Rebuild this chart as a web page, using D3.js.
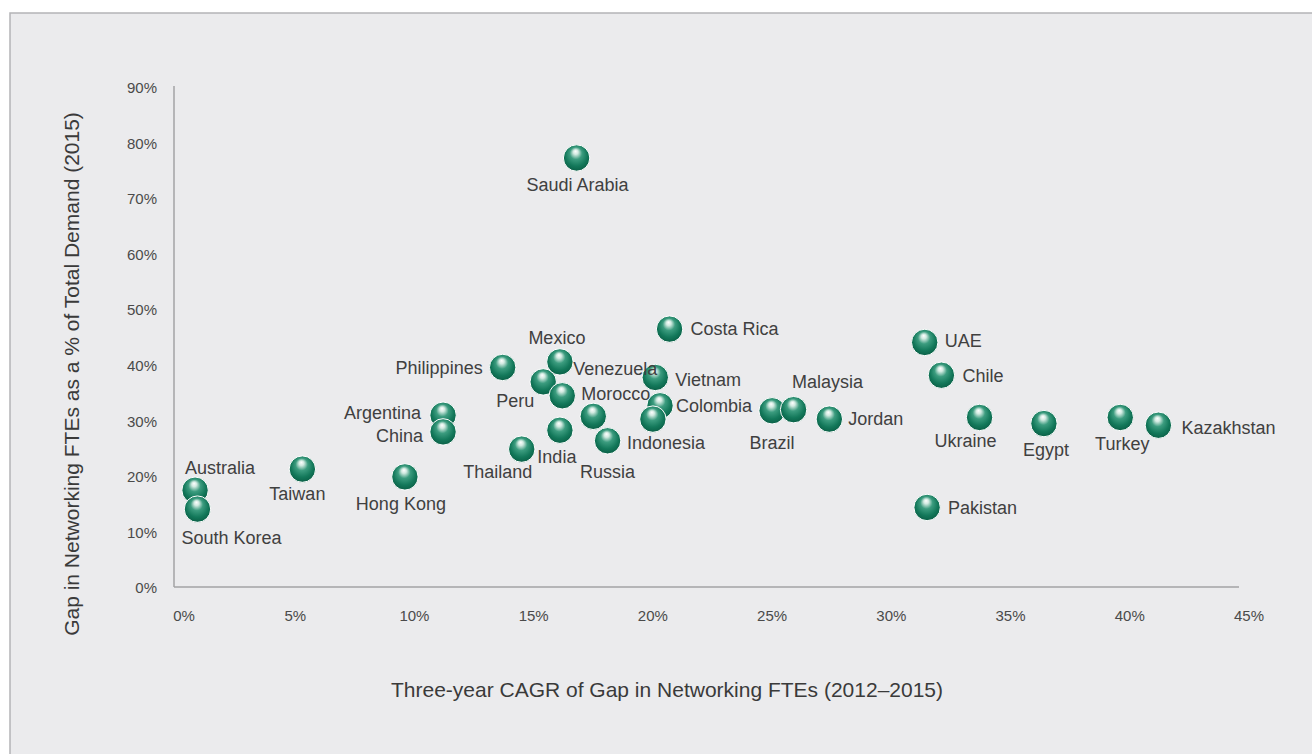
<!DOCTYPE html>
<html>
<head>
<meta charset="utf-8">
<script src="https://cdn.jsdelivr.net/npm/d3@7"></script>
<style>
body { margin: 0; background: #ffffff; }
text { font-family: "Liberation Sans", Arial, sans-serif; }
</style>
</head>
<body>
<script>
// Networking gap scatter

var countries = ["Australia","South Korea","Taiwan","Hong Kong","Argentina","China","Philippines",
    "Thailand","Peru","Mexico","Morocco","Venezuela","India","Russia","Saudi Arabia",
    "Vietnam","Colombia","Indonesia","Costa Rica","Brazil","Malaysia","Jordan",
    "UAE","Chile","Ukraine","Pakistan","Egypt","Turkey","Kazakhstan"];
// three-year CAGR of gap (%)
var cagr = [0.8,0.9,5.3,9.6,11.2,11.2,13.7,
    14.5,15.4,16.1,16.2,17.5,16.1,18.1,16.8,
    20.1,20.3,20.0,20.7,25.0,25.9,27.4,
    31.4,32.1,33.7,31.5,36.4,39.6,41.2];
// gap as % of total demand (2015)
var gap = [17.6,14.2,21.4,20.0,31.1,28.1,39.7,
    25.0,37.1,40.7,34.6,30.9,28.4,26.5,77.4,
    37.9,32.8,30.4,46.6,31.9,32.1,30.4,
    44.2,38.3,30.7,14.5,29.6,30.7,29.3];

var xTicks = [0,5,10,15,20,25,30,35,40,45];
var yTicks = [0,10,20,30,40,50,60,70,80,90];

// label placement next to each ball: dx, dy, anchor
var labelPos = [[25,-23,"middle"],[34,29,"middle"],[-5,25,"middle"],[-4,27,"middle"],
    [-22,-3,"end"],[-20,4,"end"],[-20,0,"end"],
    [-24,23,"middle"],[-28,19,"middle"],[-3,-24,"middle"],[19,-2,"start"],[-20,-48,"start"],
    [-3,26,"middle"],[0,31,"middle"],[1,27,"middle"],
    [20,2,"start"],[16,0,"start"],[-26,24,"start"],[21,0,"start"],
    [0,32,"middle"],[34,-28,"middle"],[19,0,"start"],
    [20,-2,"start"],[21,0,"start"],[-14,23,"middle"],[21,0,"start"],
    [2,26,"middle"],[2,26,"middle"],[23,2,"start"]];

var width = 1312;
var height = 754;

var body = d3.select("body");
var graphics = body.append("svg")
    .attr("width",width)
    .attr("height",height);

// panel
graphics.append("rect")
    .attr("x",10)
    .attr("y",13)
    .attr("width",width)
    .attr("height",height)
    .attr("fill","#ebebed")
    .attr("stroke","#b4b4b6")
    .attr("stroke-width",1.5);

var x = d3.scaleLinear().domain([0,45]).range([176,1249]);
var y = d3.scaleLinear().domain([0,90]).range([588,88]);

// axis lines
graphics.append("line")
    .attr("x1",174).attr("y1",86)
    .attr("x2",174).attr("y2",587)
    .attr("stroke","#a3a3a5")
    .attr("stroke-width",1.5);
graphics.append("line")
    .attr("x1",174).attr("y1",587)
    .attr("x2",1239).attr("y2",587)
    .attr("stroke","#a3a3a5")
    .attr("stroke-width",1.5);

// tick labels
graphics.selectAll(".ytick")
    .data(yTicks)
    .enter().append("text")
    .attr("class","ytick")
    .attr("x",157)
    .attr("y",function(d){ return y(d); })
    .attr("dy","0.35em")
    .attr("text-anchor","end")
    .attr("font-size",15)
    .attr("fill","#4a4a4a")
    .text(function(d){ return d + "%"; });

graphics.selectAll(".xtick")
    .data(xTicks)
    .enter().append("text")
    .attr("class","xtick")
    .attr("x",function(d){ return d == 0 ? x(d) + 8 : x(d); })
    .attr("y",616)
    .attr("dy","0.35em")
    .attr("text-anchor","middle")
    .attr("font-size",15)
    .attr("fill","#4a4a4a")
    .text(function(d){ return d + "%"; });

// axis titles
graphics.append("text")
    .attr("x",667)
    .attr("y",690)
    .attr("dy","0.35em")
    .attr("text-anchor","middle")
    .attr("font-size",21)
    .attr("fill","#3a3a3a")
    .text("Three-year CAGR of Gap in Networking FTEs (2012\u20132015)");

graphics.append("text")
    .attr("transform","translate(72,374) rotate(-90)")
    .attr("dy","0.35em")
    .attr("text-anchor","middle")
    .attr("font-size",21)
    .attr("fill","#3a3a3a")
    .text("Gap in Networking FTEs as a % of Total Demand (2015)");

// glossy ball gradient
var grad = graphics.append("defs").append("radialGradient")
    .attr("id","ball")
    .attr("cx","50%").attr("cy","45%").attr("r","58%")
    .attr("fx","46%").attr("fy","24%");
grad.append("stop").attr("offset","0%").attr("stop-color","#ffffff");
grad.append("stop").attr("offset","16%").attr("stop-color","#d2eae1");
grad.append("stop").attr("offset","40%").attr("stop-color","#3c9c7f");
grad.append("stop").attr("offset","72%").attr("stop-color","#13785a");
grad.append("stop").attr("offset","100%").attr("stop-color","#0a5c44");

var idx = d3.range(countries.length);

graphics.selectAll(".ball")
    .data(idx)
    .enter().append("circle")
    .attr("class","ball")
    .attr("cx",function(i){ return x(cagr[i]); })
    .attr("cy",function(i){ return y(gap[i]); })
    .attr("r",13.2)
    .attr("fill","url(#ball)")
    .attr("stroke","#ffffff")
    .attr("stroke-width",1);

graphics.selectAll(".lbl")
    .data(idx)
    .enter().append("text")
    .attr("class","lbl")
    .attr("x",function(i){ return x(cagr[i]) + labelPos[i][0]; })
    .attr("y",function(i){ return y(gap[i]) + labelPos[i][1]; })
    .attr("dy","0.35em")
    .attr("text-anchor",function(i){ return labelPos[i][2]; })
    .attr("font-size",18)
    .attr("fill","#404040")
    .text(function(i){ return countries[i]; });
</script>
</body>
</html>
